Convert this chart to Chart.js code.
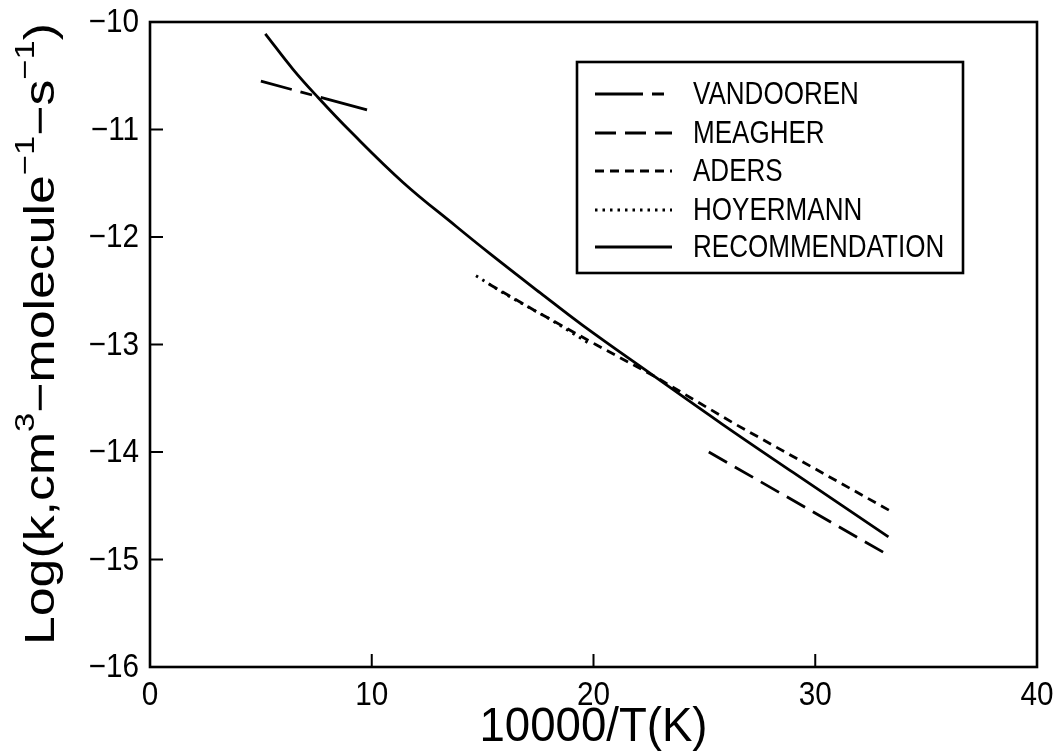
<!DOCTYPE html>
<html>
<head>
<meta charset="utf-8">
<script src="https://cdn.jsdelivr.net/npm/chart.js@4"></script>
<style>
  html, body { margin: 0; padding: 0; background: #fff; }
  canvas { display: block; }
</style>
</head>
<body>
<canvas id="chart" width="1056" height="753"></canvas>
<script>
// values (x = 10000/T, y = log k)
const vandoorenX = [5.0, 10.0];
const vandoorenY = [-10.55, -10.83];
const meagherX = [25.2, 33.3];
const meagherY = [-14.0, -14.96];
const adersX = [15.3, 17.4, 20.1, 22.7, 26.3, 33.4];
const adersY = [-12.44, -12.69, -13.0, -13.29, -13.73, -14.55];
const hoyermannX = [14.7, 16.0, 18.0, 19.8];
const hoyermannY = [-12.36, -12.53, -12.76, -12.99];
const recX = [5.2, 6.45, 7.57, 9.0, 11.4, 13.8, 15.3, 17.6, 19.5, 22.7, 25.8, 29.0, 33.3];
const recY = [-10.11, -10.44, -10.70, -11.01, -11.49, -11.90, -12.15, -12.52, -12.82, -13.29, -13.74, -14.19, -14.79];

const xTicks = [0, 10, 20, 30, 40];
const yTicks = [-10, -11, -12, -13, -14, -15, -16];
const seriesNames = ['VANDOOREN', 'MEAGHER', 'ADERS', 'HOYERMANN', 'RECOMMENDATION'];

function pts(xs, ys) {
  return xs.map((x, i) => ({x: x, y: ys[i]}));
}

function lineSet(label, xs, ys, dash, extra) {
  return Object.assign({
    label: label,
    data: pts(xs, ys),
    showLine: true,
    borderColor: '#000',
    borderWidth: 2.8,
    borderDash: dash,
    pointRadius: 0,
    fill: false
  }, extra || {});
}

const FONT = '"Liberation Sans", Arial, Helvetica, sans-serif';

// text squeezed sideways like the scanned original
function narrowText(ctx, text, x, y, k) {
  ctx.save();
  ctx.scale(k, 1);
  ctx.fillText(text, x / k, y);
  ctx.restore();
}

// frame, inward ticks, tick labels, axis titles and the boxed legend
const decor = {
  id: 'decor',
  afterDraw(chart) {
    const ctx = chart.ctx;
    const a = chart.chartArea;
    const xs = chart.scales.x, ys = chart.scales.y;
    ctx.save();
    ctx.strokeStyle = '#000';
    ctx.fillStyle = '#000';
    ctx.lineWidth = 2.6;
    ctx.setLineDash([]);
    ctx.strokeRect(a.left, a.top, a.right - a.left, a.bottom - a.top);

    // ticks pointing inwards
    ctx.lineWidth = 2;
    ctx.beginPath();
    xTicks.forEach(v => {
      const px = xs.getPixelForValue(v);
      ctx.moveTo(px, a.bottom);
      ctx.lineTo(px, a.bottom - 13);
    });
    yTicks.forEach(v => {
      const py = ys.getPixelForValue(v);
      ctx.moveTo(a.left, py);
      ctx.lineTo(a.left + 13, py);
    });
    ctx.stroke();

    // tick labels
    ctx.font = '33px ' + FONT;
    ctx.textAlign = 'center';
    ctx.textBaseline = 'alphabetic';
    xTicks.forEach(v => {
      narrowText(ctx, String(v), xs.getPixelForValue(v), 705, 0.9);
    });
    ctx.textAlign = 'right';
    ctx.textBaseline = 'middle';
    yTicks.forEach(v => {
      narrowText(ctx, '\u2212' + Math.abs(v), 139, ys.getPixelForValue(v) + 1, 0.9);
    });

    // x title
    ctx.font = '48px ' + FONT;
    ctx.textAlign = 'center';
    ctx.textBaseline = 'alphabetic';
    narrowText(ctx, '10000/T(K)', (a.left + a.right) / 2, 741, 0.95);

    // y title with superscripts
    const parts = [
      ['Log(k,cm', false], ['3', true], ['\u2212molecule', false], ['\u22121', true],
      ['\u2212s', false], ['\u22121', true], [')', false]
    ];
    const big = '42px ' + FONT, small = '28px ' + FONT;
    let total = 0;
    parts.forEach(p => { ctx.font = p[1] ? small : big; total += ctx.measureText(p[0]).width; });
    const target = 622;
    const sx = target / total;
    ctx.translate(54, 334);
    ctx.rotate(-Math.PI / 2);
    ctx.scale(sx, 1);
    ctx.textAlign = 'left';
    let cx = -total / 2;
    parts.forEach(p => {
      ctx.font = p[1] ? small : big;
      ctx.fillText(p[0], cx, p[1] ? -20 : 0);
      cx += ctx.measureText(p[0]).width;
    });
    ctx.restore();

    // legend
    ctx.save();
    ctx.strokeStyle = '#000';
    ctx.fillStyle = '#000';
    ctx.lineWidth = 2.6;
    ctx.strokeRect(577, 62, 386, 211);
    const rows = [94, 133, 171, 210, 247];
    chart.data.datasets.forEach((ds, i) => {
      const y = rows[i];
      ctx.lineWidth = ds.borderWidth;
      ctx.setLineDash(ds.borderDash || []);
      ctx.lineDashOffset = 0;
      ctx.beginPath();
      ctx.moveTo(595, y);
      ctx.lineTo(672, y);
      ctx.stroke();
      ctx.setLineDash([]);
      ctx.font = '31px ' + FONT;
      ctx.textAlign = 'left';
      ctx.textBaseline = 'middle';
      narrowText(ctx, seriesNames[i], 693, y + 1, 0.84);
    });
    ctx.restore();
  }
};

new Chart(document.getElementById('chart'), {
  type: 'scatter',
  data: {
    datasets: [
      lineSet(seriesNames[0], vandoorenX, vandoorenY, [48, 9, 12, 9], {borderDashOffset: 16}),
      lineSet(seriesNames[1], meagherX, meagherY, [21, 9]),
      lineSet(seriesNames[2], adersX, adersY, [9, 6]),
      lineSet(seriesNames[3], hoyermannX, hoyermannY, [2.5, 5]),
      lineSet(seriesNames[4], recX, recY, [], {tension: 0.4})
    ]
  },
  options: {
    responsive: false,
    animation: false,
    layout: {padding: {top: 22, right: 19, left: 0, bottom: 0}},
    plugins: {legend: {display: false}, tooltip: {enabled: false}},
    scales: {
      x: {
        type: 'linear', min: 0, max: 40,
        ticks: {display: false, stepSize: 10},
        grid: {display: false}, border: {display: false},
        afterFit(s) { s.height = 86; }
      },
      y: {
        type: 'linear', min: -16, max: -10,
        ticks: {display: false, stepSize: 1},
        grid: {display: false}, border: {display: false},
        afterFit(s) { s.width = 150; }
      }
    }
  },
  plugins: [decor]
});
</script>
</body>
</html>
